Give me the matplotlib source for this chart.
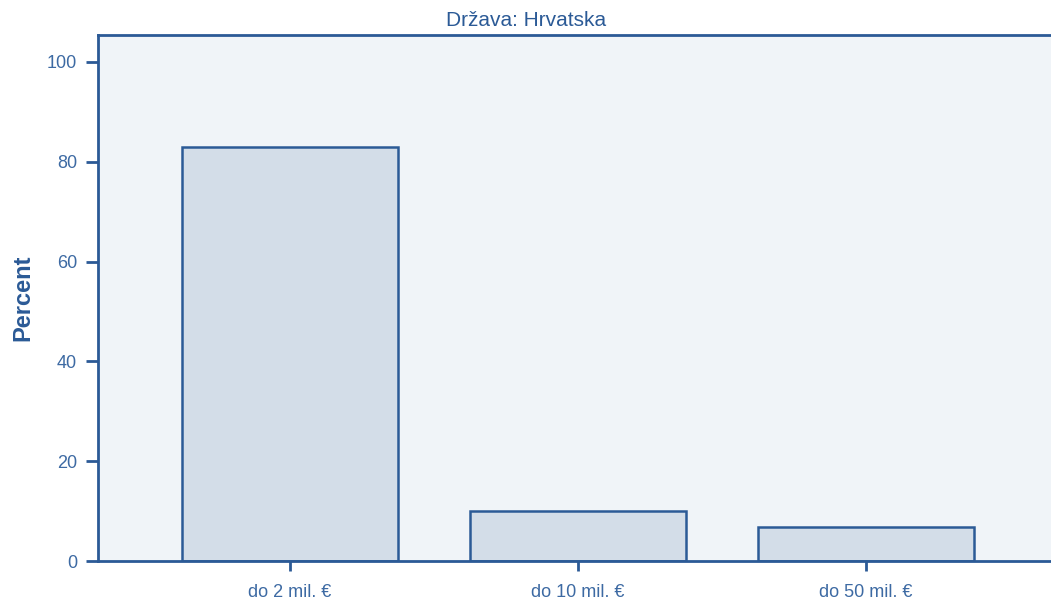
import matplotlib
matplotlib.use("Agg")
import matplotlib.pyplot as plt

categories = ["do 2 mil. €", "do 10 mil. €", "do 50 mil. €"]
values = [83.0, 10.1, 6.9]
yticks = [0, 20, 40, 60, 80, 100]
title = "Država: Hrvatska"
ylabel = "Percent"

edge = "#2B5A96"
text_c = "#3D6AA3"
bg = "#F0F4F8"
fill = "#D3DDE8"

plt.rcParams['font.family'] = ['Liberation Sans', 'DejaVu Sans']

fig = plt.figure(figsize=(10.51, 6.01), dpi=100)
ax = fig.add_axes([98/1051, 1 - 561/601, (1051-98)/1051, (561-35)/601])
ax.set_facecolor(bg)
x = list(range(len(categories)))
ax.bar(x, values, width=0.75, color=fill, edgecolor=edge, linewidth=1.8, zorder=2)
ax.set_xlim(-0.667, 2.642)
ax.set_ylim(0, 105.4)
ax.set_xticks(x)
ax.set_xticklabels(categories)
ax.set_yticks(yticks)
for s in ['left', 'top', 'bottom']:
    ax.spines[s].set_color(edge)
    ax.spines[s].set_linewidth(2)
ax.spines['right'].set_visible(False)
ax.tick_params(axis='y', length=9, width=2, color=edge, labelcolor=text_c, labelsize=13, pad=6)
ax.tick_params(axis='x', length=7.5, width=2, color=edge, labelcolor=text_c, labelsize=13, pad=9)
ax.set_ylabel(ylabel, fontsize=17, fontweight='bold', color=edge, labelpad=9)
fig.text(526/1051, 1 - 20/601, title, ha='center', va='center', fontsize=15, color=edge)
fig.savefig("out.png", dpi=100)
